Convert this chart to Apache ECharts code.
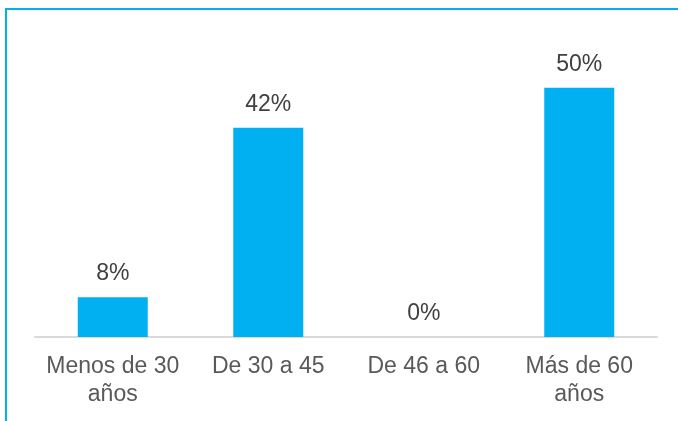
<!DOCTYPE html>
<html lang="es">
<head>
    <meta charset="UTF-8">
    <title>Edad</title>
    <script src="https://cdn.jsdelivr.net/npm/echarts@6/dist/echarts.min.js"></script>
    <style>
        body { margin: 0; background: #fff; }
    </style>
</head>
<body>
    <div id="main" style="width: 678px; height: 421px"></div>
    <script>
        var categories = ['Menos de 30\naños', 'De 30 a 45', 'De 46 a 60', 'Más de 60\naños'];
        var values = [8, 42, 0, 50];

        var myChart = echarts.init(document.getElementById('main'));

        myChart.setOption({
            animation: false,
            textStyle: { fontFamily: 'Liberation Sans, Arial, sans-serif' },
            graphic: [
                // frame lines at the top and left
                { type: 'rect', shape: { x: 5, y: 8, width: 673, height: 2 }, style: { fill: '#00b0f0' } },
                { type: 'rect', shape: { x: 5, y: 8, width: 2, height: 413 }, style: { fill: '#00b0f0' } }
            ],
            grid: {
                left: 35,
                right: 21,
                top: 38,
                bottom: 84
            },
            xAxis: {
                type: 'category',
                data: categories,
                axisLine: { lineStyle: { color: '#d9d9d9', width: 2 } },
                axisTick: { show: false },
                axisLabel: {
                    color: '#595959',
                    fontSize: 23,
                    lineHeight: 28,
                    margin: 16,
                    interval: 0
                }
            },
            yAxis: {
                type: 'value',
                min: 0,
                max: 60,
                show: false
            },
            series: [{
                type: 'bar',
                data: values,
                barWidth: 70,
                itemStyle: { color: '#00b0f0' },
                label: {
                    show: true,
                    position: 'top',
                    distance: 12,
                    formatter: '{c}%',
                    color: '#404040',
                    fontSize: 23
                }
            }]
        });
    </script>
</body>
</html>
